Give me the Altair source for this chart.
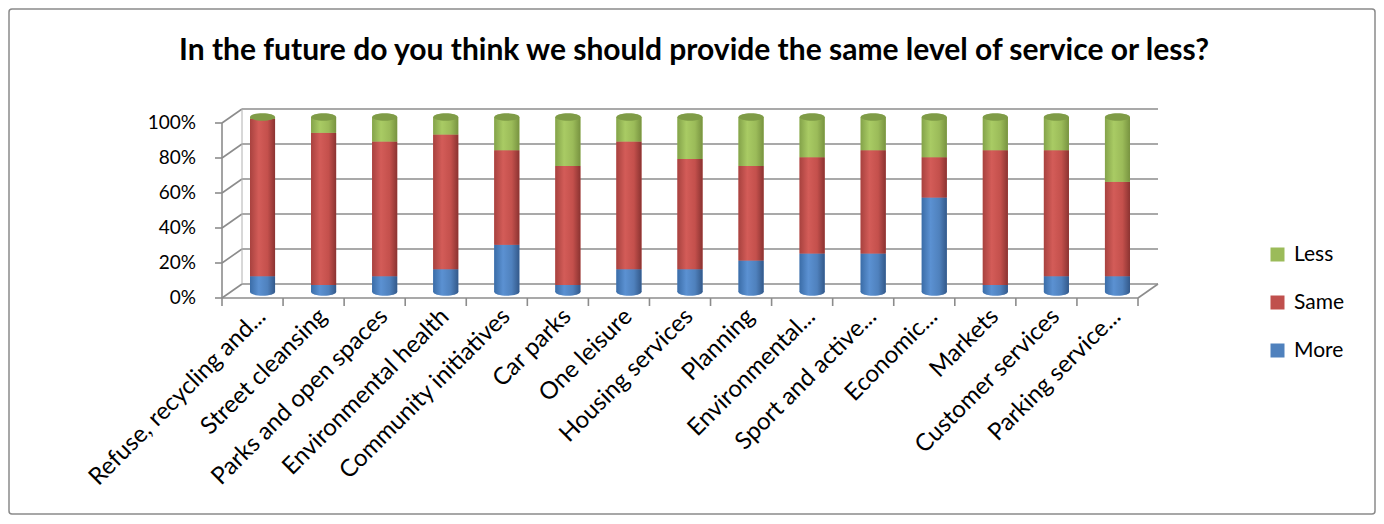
import altair as alt
import pandas as pd

categories = [
    "Refuse, recycling and...", "Street cleansing", "Parks and open spaces",
    "Environmental health", "Community initiatives", "Car parks", "One leisure",
    "Housing services", "Planning", "Environmental...", "Sport and active...",
    "Economic...", "Markets", "Customer services", "Parking service...",
]
more = [9, 4, 9, 13, 27, 4, 13, 13, 18, 22, 22, 54, 4, 9, 9]
same = [90, 87, 77, 77, 54, 68, 73, 63, 54, 55, 59, 23, 77, 72, 54]
less = [1, 9, 14, 10, 19, 28, 14, 24, 28, 23, 19, 23, 19, 19, 37]
series_names = ["More", "Same", "Less"]
legend_order = ["Less", "Same", "More"]
y_ticks = [0, 20, 40, 60, 80, 100]
title_text = "In the future do you think we should provide the same level of service or less?"

rows = []
for i, c in enumerate(categories):
    for k, (s, vals) in enumerate(zip(series_names, [more, same, less])):
        rows.append({"cat": c, "series": s, "ord": k, "pct": vals[i]})
df = pd.DataFrame(rows)
ticks_df = pd.DataFrame({"t": y_ticks})
title_df = pd.DataFrame({"title": [title_text]})

W, H = 916, 175
STEP = W / len(categories)
FONT = "Lato"
GRID = "#8c8c8c"
BLUE, RED, GREEN = "#4F81BD", "#C0504D", "#9BBB59"


def grad(c0, c1, c2, c3):
    return alt.LinearGradient(
        gradient="linear", x1=0, x2=1, y1=0, y2=0,
        stops=[alt.GradientStop(color=c0, offset=0),
               alt.GradientStop(color=c1, offset=0.35),
               alt.GradientStop(color=c2, offset=0.7),
               alt.GradientStop(color=c3, offset=1)])


grads = {
    "More": grad("#3B6DA8", "#5B91D2", "#4F81BD", "#33598A"),
    "Same": grad("#A8423F", "#D35C58", "#C4504C", "#8B3331"),
    "Less": grad("#84A34A", "#A9CB64", "#9BBB59", "#789340"),
}

yscale = alt.Scale(domain=[0, 100], nice=False, zero=True)
xenc = alt.X(
    "cat:N", sort=categories,
    scale=alt.Scale(paddingInner=0.59, paddingOuter=0.295),
    axis=alt.Axis(title=None, domain=False, ticks=False, labelAngle=-45,
                  labelAlign="right", labelBaseline="top", labelPadding=12,
                  labelOffset=-9, labelFontSize=24, labelFont=FONT,
                  labelColor="black", labelLimit=400, zindex=1),
)

base = alt.Chart(df).transform_stack(
    stack="pct", groupby=["cat"], sort=[alt.SortField("ord", order="ascending")],
    as_=["y0", "y1"])

solid = base.mark_bar().encode(
    x=xenc,
    y=alt.Y("y0:Q", scale=yscale, axis=None),
    y2="y1:Q",
    color=alt.Color("series:N",
                    scale=alt.Scale(domain=legend_order, range=[GREEN, RED, BLUE]),
                    legend=alt.Legend(orient="none", legendX=1035, legendY=127,
                                      title=None, symbolType="square",
                                      symbolSize=196, symbolStrokeWidth=0,
                                      labelFontSize=21, labelFont=FONT,
                                      labelColor="black", rowPadding=26,
                                      labelOffset=6, padding=0)),
)

grad_layers = [
    base.transform_filter(alt.datum.series == s).mark_bar(color=grads[s]).encode(
        x=xenc, y=alt.Y("y0:Q", scale=yscale, axis=None), y2="y1:Q")
    for s in series_names
]

ELLIPSE = "M -1 0 A 1 0.3 0 1 1 1 0 A 1 0.3 0 1 1 -1 0 Z"
bottom_ell = base.transform_filter(alt.datum.series == "More").mark_point(
    shape=ELLIPSE, size=625, filled=True, opacity=1, strokeWidth=0,
    fill=grads["More"]).encode(x=xenc, y=alt.Y("y0:Q", scale=yscale, axis=None))
top_ell = base.transform_filter(alt.datum.series == "Less").mark_point(
    shape=ELLIPSE, size=625, filled=True, opacity=1, strokeWidth=0,
    fill="#7F9C47").encode(x=xenc, y=alt.Y("y1:Q", scale=yscale, axis=None))

tk = alt.Chart(ticks_df)
ext = alt.Chart(ticks_df).transform_aggregate(lo="min(t)", hi="max(t)")
yt = alt.Y("t:Q", scale=yscale, axis=None)

frame = ext.mark_rect(fill="white", fillOpacity=0, stroke="#8a8a8a", strokeWidth=1.5,
                      cornerRadius=3).encode(
    x=alt.value(-223), x2=alt.value(1143), y=alt.value(-108), y2=alt.value(397))

back_grid = tk.mark_rule(color=GRID, strokeWidth=1.6, yOffset=-8).encode(
    y=yt, x=alt.value(10), x2=alt.value(W + 10))
diag = tk.mark_rule(color=GRID, strokeWidth=1.6, yOffset=6, y2Offset=-8).encode(
    y=yt, y2="t:Q", x=alt.value(-10), x2=alt.value(10))
front_ticks = tk.mark_rule(color=GRID, strokeWidth=1.6, yOffset=6).encode(
    y=yt, x=alt.value(-17), x2=alt.value(-10))
y_labels = tk.transform_calculate(lbl="datum.t + '%'").mark_text(
    font=FONT, fontSize=19, align="right", baseline="middle", color="black",
    yOffset=6).encode(y=yt, x=alt.value(-36), text="lbl:N")
wall_left = ext.mark_rule(color="#b0b0b0", strokeWidth=1, yOffset=-8, y2Offset=-8).encode(
    y=alt.Y("lo:Q", scale=yscale, axis=None), y2="hi:Q", x=alt.value(10))
front_axis = ext.mark_rule(color=GRID, strokeWidth=1.6, yOffset=6, y2Offset=6).encode(
    y=alt.Y("lo:Q", scale=yscale, axis=None), y2="hi:Q", x=alt.value(-10))
floor_front = ext.mark_rule(color=GRID, strokeWidth=1.6, yOffset=6).encode(
    y=alt.Y("lo:Q", scale=yscale, axis=None), x=alt.value(-10), x2=alt.value(W - 10))
floor_right = ext.mark_rule(color=GRID, strokeWidth=1.6, yOffset=6, y2Offset=-8).encode(
    y=alt.Y("lo:Q", scale=yscale, axis=None), y2="lo:Q",
    x=alt.value(W - 10), x2=alt.value(W + 10))

cat_ticks = base.transform_filter(alt.datum.series == "More").mark_rule(
    color=GRID, strokeWidth=1.6, xOffset=-STEP / 2 - 10, yOffset=6, y2Offset=14).encode(
    x=xenc, y=alt.YDatum(0, scale=yscale, axis=None), y2=alt.Y2Datum(0))
last_tick = base.transform_filter(
    (alt.datum.series == "More") & (alt.datum.cat == categories[-1])).mark_rule(
    color=GRID, strokeWidth=1.6, xOffset=STEP / 2 - 10, yOffset=6, y2Offset=14).encode(
    x=xenc, y=alt.YDatum(0, scale=yscale, axis=None), y2=alt.Y2Datum(0))

title = alt.Chart(title_df).mark_text(
    font=FONT, fontSize=30, fontWeight="bold", align="center",
    baseline="middle", color="black").encode(
    text="title:N", x=alt.value(462), y=alt.value(-66))

chart = alt.layer(
    frame, back_grid, diag, wall_left, front_axis, front_ticks, y_labels, floor_front,
    floor_right, cat_ticks, last_tick, bottom_ell, solid, *grad_layers, top_ell, title
).properties(width=W, height=H, padding=0, background="white").configure_view(stroke=None)

chart.save("out.html", embed_options={"renderer": "svg", "actions": False})
